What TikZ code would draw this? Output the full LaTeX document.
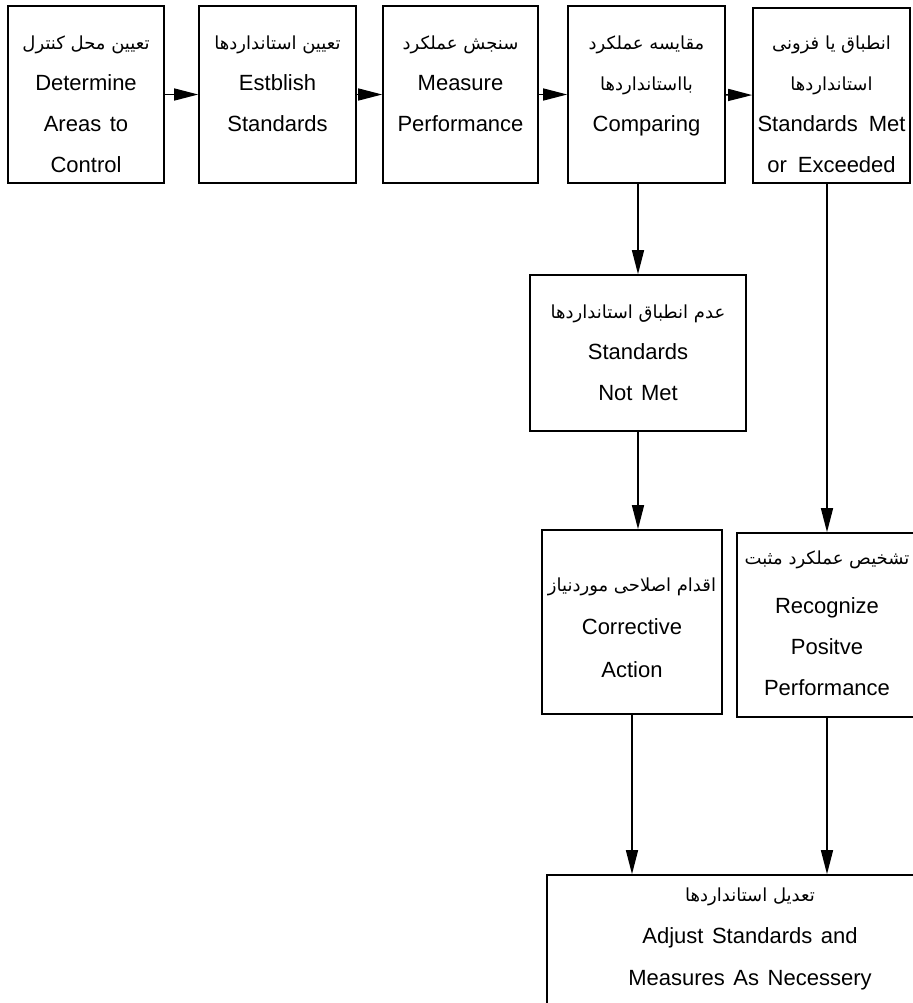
\documentclass[tikz,border=0pt]{standalone}
\usepackage{fontspec}
\setsansfont{Liberation Sans}[WordSpace=1.4]
\newfontfamily\farsi[Script=Arabic]{DejaVu Sans}
\TeXXeTstate=1
\usetikzlibrary{arrows.meta}
\newcommand{\fatext}[1]{{\farsi\fontsize{9}{20.5}\selectfont\beginR #1\endR}}
\tikzset{
  stage/.style={draw, line width=0.8pt, inner sep=0pt, align=center,
    font=\sffamily\fontsize{11}{20.5}\selectfont},
  flow/.style={line width=0.7pt, -{Triangle[length=12pt,width=6pt]}},
}

\begin{document}
\begin{tikzpicture}[x=0.5pt, y=-0.5pt]
		%%%%% START %%%%%
		\useasboundingbox (0,0) rectangle (912,1003);
		
		% top row
		\node[stage, minimum width=78pt, text height=83pt, text depth=5.5pt] (area) at (86,94.5)
			{\fatext{تعیین محل کنترل}\\Determine\\Areas to\\Control};
		\node[stage, minimum width=78.5pt, text height=62.5pt, text depth=26pt] (standard) at (277.5,94.5)
			{\fatext{تعیین استانداردها}\\Estblish\\Standards};
		\node[stage, minimum width=77.5pt, text height=62.5pt, text depth=26pt] (measure) at (460.5,94.5)
			{\fatext{سنجش عملکرد}\\Measure\\Performance};
		\node[stage, minimum width=78.5pt, text height=62.5pt, text depth=26pt] (compare) at (646.5,94.5)
			{\fatext{مقایسه عملکرد}\\\fatext{بااستانداردها}\\Comparing};
		\node[stage, minimum width=78.5pt, text height=82pt, text depth=5.5pt] (met) at (831.5,95.5)
			{\fatext{انطباق یا فزونی}\\\fatext{استانداردها}\\Standards\enspace Met\\or\enspace Exceeded};
		
		\draw[flow] (area) -- (standard);
		\draw[flow] (standard) -- (measure);
		\draw[flow] (measure) -- (compare);
		\draw[flow] (compare) -- (met);
		
		% middle
		\node[stage, minimum width=108pt, text height=62.5pt, text depth=15.5pt] (notmet) at (638,353)
			{\fatext{عدم انطباق استانداردها}\\Standards\\Not Met};
		\node[stage, minimum width=90pt, text height=73.5pt, text depth=18.5pt] (correct) at (632,622)
			{\fatext{اقدام اصلاحی موردنیاز}\\[1pt]Corrective\\[1pt]Action};
		\node[stage, minimum width=90pt, text height=81pt, text depth=11pt] (recog) at (827,625)
			{\fatext{تشخیص عملکرد مثبت}\\[4pt]Recognize\\Positve\\Performance};
		
		% bottom
		\node[stage, minimum width=203pt, text height=55pt, text depth=27.5pt] (adjust) at (750,957.5)
			{\fatext{تعدیل استانداردها}\\[0.5pt]Adjust Standards and\\[0.5pt]Measures As Necessery};
		
		\draw[flow] (compare.south -| notmet.north) -- (notmet.north);
		\draw[flow] (met.south -| recog.north) -- (recog.north);
		\draw[flow] (notmet.south) -- (notmet.south |- correct.north);
		\draw[flow] (correct.south) -- (correct.south |- adjust.north);
		\draw[flow] (recog.south) -- (recog.south |- adjust.north);
		
		%%%%% END %%%%%
\end{tikzpicture}
\end{document}
